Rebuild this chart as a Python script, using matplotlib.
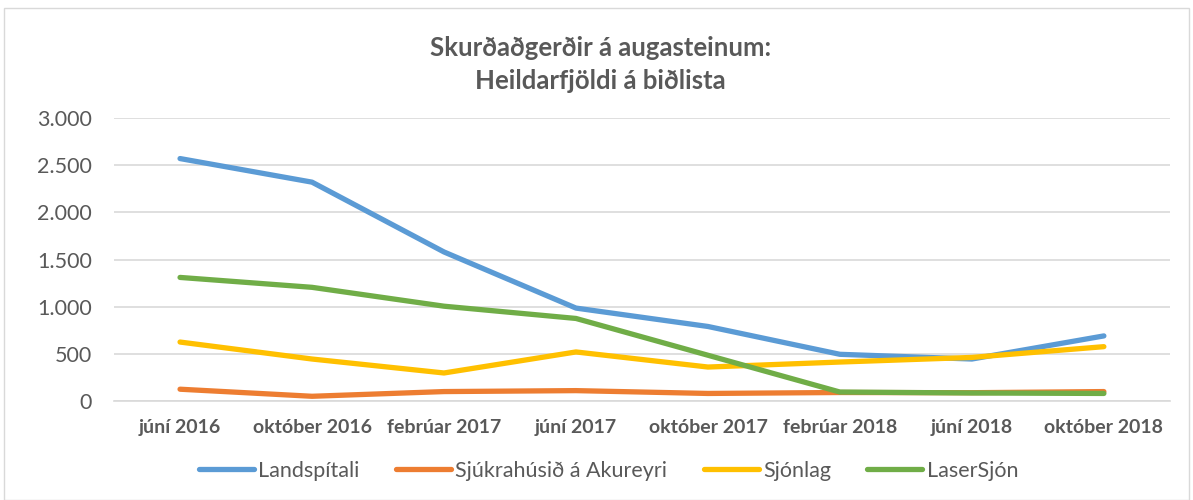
import matplotlib.pyplot as plt
from matplotlib.ticker import FuncFormatter
from matplotlib.patches import Rectangle

plt.rcParams['font.family'] = ['Lato', 'DejaVu Sans']

categories = ["júní 2016", "október 2016", "febrúar 2017", "júní 2017",
              "október 2017", "febrúar 2018", "júní 2018", "október 2018"]
landspitali = [2570, 2320, 1580, 985, 790, 495, 445, 690]
akureyri = [125, 50, 100, 110, 80, 90, 88, 100]
sjonlag = [625, 445, 297, 520, 360, 413, 462, 576]
lasersjon = [1310, 1205, 1005, 875, 485, 95, 85, 80]

series = [("Landspítali", landspitali, "#5B9BD5"),
          ("Sjúkrahúsið á Akureyri", akureyri, "#ED7D31"),
          ("Sjónlag", sjonlag, "#FFC000"),
          ("LaserSjón", lasersjon, "#70AD47")]

fig = plt.figure(figsize=(11.93, 5), dpi=100)
ax = fig.add_axes([0.0956, 0.198, 0.885, 0.566])

x = range(len(categories))
for name, vals, col in series:
    ax.plot(x, vals, color=col, lw=3.8, label=name,
            solid_capstyle="round", solid_joinstyle="round")

ax.set_xlim(-0.5, len(categories) - 0.5)
ax.set_ylim(0, 3000)
ax.set_yticks(range(0, 3001, 500))
ax.yaxis.set_major_formatter(FuncFormatter(lambda v, p: f"{int(v):,}".replace(",", ".")))
ax.set_xticks(list(x))
ax.set_xticklabels(categories, fontweight="bold", fontsize=14)
ax.tick_params(axis="both", length=0, colors="#595959")
ax.tick_params(axis="y", labelsize=15.5, pad=16)
ax.tick_params(axis="x", pad=13)
ax.grid(axis="y", color="#D9D9D9", lw=1.2)
ax.set_axisbelow(True)
for s in ["top", "right", "left"]:
    ax.spines[s].set_visible(False)
ax.spines["bottom"].set_color("#D9D9D9")
ax.spines["bottom"].set_linewidth(1.2)

fig.text(0.503, 0.871, "Skurðaðgerðir á augasteinum:\nHeildarfjöldi á biðlista",
         ha="center", va="center", fontsize=18.5, fontweight="bold",
         color="#595959", linespacing=1.45)

fig.legend(loc="center", bbox_to_anchor=(0.51, 0.058), ncol=4, frameon=False,
           fontsize=15.5, labelcolor="#595959", handlelength=2.55,
           handletextpad=0.2, columnspacing=1.7)

fig.patches.append(Rectangle((0.003, 0.0), 0.994, 0.984, transform=fig.transFigure,
                             fill=False, edgecolor="#D9D9D9", lw=1))

fig.savefig("out.png", dpi=100)
